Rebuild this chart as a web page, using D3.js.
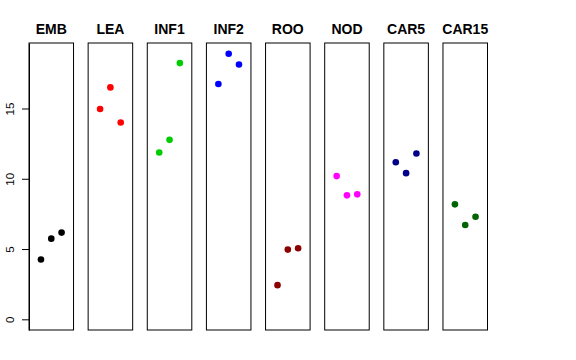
<!DOCTYPE html>
<html>
<head>
<meta charset="utf-8">
<script src="https://cdn.jsdelivr.net/npm/d3@7"></script>
<style>
  body { margin: 0; background: #fff; }
  svg { display: block; font-family: "Liberation Sans", Arial, sans-serif; }
</style>
</head>
<body>
<svg id="chart" width="576" height="360"></svg>
<script>
const groups = ["EMB", "LEA", "INF1", "INF2", "ROO", "NOD", "CAR5", "CAR15"];
const colors = ["#000000", "#FF0000", "#00CD00", "#0000FF", "#8B0000", "#FF00FF", "#00008B", "#006400"];
const values = [
  [4.26, 5.74, 6.17],
  [14.96, 16.5, 14.0],
  [11.87, 12.77, 18.23],
  [16.74, 18.89, 18.13],
  [2.43, 4.96, 5.06],
  [10.19, 8.82, 8.89],
  [11.18, 10.4, 11.8],
  [8.18, 6.71, 7.3]
];
const yTicks = [0, 5, 10, 15];

const svg = d3.select("#chart");
const plotTop = 43, plotBottom = 330;

const panel = d3.scaleBand()
  .domain(groups)
  .range([29, 487.5])
  .paddingInner(0.247)
  .paddingOuter(0);

const y = d3.scaleLinear()
  .domain([-0.76, 19.66])
  .range([plotBottom, plotTop]);

const x = d3.scaleLinear()
  .domain([-0.16, 4.16])
  .range([0, panel.bandwidth()]);

// y axis on the left of the first panel
const yAxis = svg.append("g")
  .attr("transform", `translate(${panel(groups[0])},0)`)
  .call(d3.axisLeft(y).tickValues(yTicks).tickSize(7).tickSizeOuter(0).tickPadding(0));
yAxis.select(".domain").attr("stroke", "#000");
yAxis.selectAll(".tick line").attr("stroke", "#000");
yAxis.selectAll(".tick text").remove();
yAxis.selectAll(".tick").append("text")
  .attr("transform", "translate(-19,0) rotate(-90)")
  .attr("text-anchor", "middle")
  .attr("dy", "0.35em")
  .attr("fill", "#000")
  .attr("font-size", 11.5)
  .text(d => d);

groups.forEach((name, i) => {
  const g = svg.append("g").attr("transform", `translate(${panel(name)},0)`);

  g.append("rect")
    .attr("x", 0)
    .attr("y", plotTop)
    .attr("width", panel.bandwidth())
    .attr("height", plotBottom - plotTop)
    .attr("fill", "none")
    .attr("stroke", "#000")
    .attr("stroke-width", 1);

  g.append("text")
    .attr("x", panel.bandwidth() / 2)
    .attr("y", 34)
    .attr("text-anchor", "middle")
    .attr("font-size", 14)
    .attr("font-weight", "bold")
    .text(name);

  g.selectAll("circle")
    .data(values[i])
    .join("circle")
    .attr("cx", (d, j) => x(j + 1))
    .attr("cy", d => y(d))
    .attr("r", 3.3)
    .attr("fill", colors[i]);
});
</script>
</body>
</html>
